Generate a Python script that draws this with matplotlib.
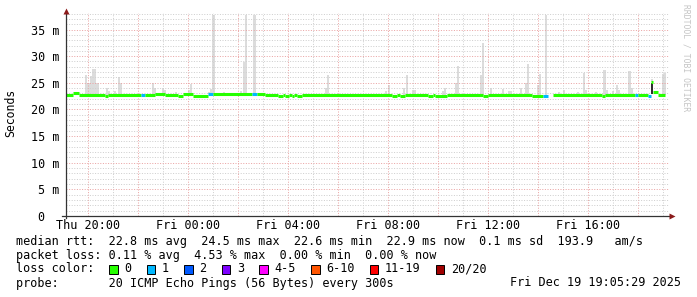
import numpy as np
import matplotlib
matplotlib.use("Agg")
import matplotlib.pyplot as plt
from matplotlib.collections import LineCollection

# ---------------- data ----------------
tick_hours = [20, 24, 28, 32, 36, 40]
tick_labels = ["Thu 20:00", "Fri 00:00", "Fri 04:00", "Fri 08:00", "Fri 12:00", "Fri 16:00"]
y_ticks = [0, 5, 10, 15, 20, 25, 30, 35]
y_tick_labels = ["0  ", "5 m", "10 m", "15 m", "20 m", "25 m", "30 m", "35 m"]

start_h = 19 + 5 / 60
end_h = 43 + 5 / 60
step_h = 5 / 60

# median rtt (ms), piecewise constant segments: start hour, value, loss band index
median_start_h = [19.0833, 19.38, 19.62, 20.68, 20.80, 22.10, 22.26, 22.66, 23.06, 23.58,
                  23.78, 24.18, 24.78, 24.98, 26.54, 26.74, 27.08, 27.58, 27.78, 27.87,
                  28.03, 28.15, 28.23, 28.35, 28.55, 32.15, 32.35, 32.47, 32.67, 33.60,
                  33.80, 33.87, 34.35, 35.78, 35.98, 37.74, 38.18, 38.38, 38.58, 40.54,
                  40.66, 41.86, 41.98, 42.38, 42.50, 42.58, 42.78]
median_ms = [22.8, 23.0, 22.75, 22.6, 22.75, 22.7, 22.75, 22.95, 22.75, 22.6,
             22.9, 22.6, 22.9, 22.85, 22.85, 22.95, 22.8, 22.6, 22.8, 22.6,
             22.8, 22.6, 22.8, 22.6, 22.8, 22.6, 22.8, 22.6, 22.8, 22.6,
             22.8, 22.6, 22.8, 22.6, 22.8, 22.6, 22.6, np.nan, 22.8, 22.6,
             22.8, 22.75, 22.8, 22.6, 25.1, 23.3, 22.75]
median_loss = [0, 0, 0, 0, 0, 1, 0, 0, 0, 0,
               0, 0, 1, 0, 1, 0, 0, 0, 0, 0,
               0, 0, 0, 0, 0, 0, 0, 0, 0, 0,
               0, 0, 0, 0, 0, 0, 1, 0, 0, 0,
               0, 1, 0, 1, 0, 0, 0]

# smoke (max ping rtt per 5-minute step, ms)
smoke_h = [19.88, 19.96, 20.08, 20.16, 20.24, 20.32, 20.70, 20.78, 21.02, 21.18,
           21.26, 22.54, 22.62, 22.94, 23.02, 23.46, 24.00, 24.08, 24.80, 24.88,
           24.96, 25.38, 26.06, 26.17, 26.26, 26.60, 29.46, 29.54, 31.86, 31.99,
           32.59, 32.69, 32.93, 33.02, 34.13, 34.22, 34.66, 34.76, 35.66, 35.76,
           36.06, 36.53, 36.78, 36.86, 37.26, 37.46, 37.56, 37.93, 38.02, 38.26,
           38.80, 38.97, 39.53, 39.77, 39.86, 40.26, 40.60, 40.69, 40.93, 41.09,
           41.18, 41.60, 41.69, 42.50, 42.93, 43.01]
smoke_top_ms = [26.5, 25.0, 26.3, 27.6, 27.6, 25.0, 24.0, 23.5, 23.4, 26.0,
                25.0, 25.0, 24.1, 24.1, 23.6, 23.3, 23.6, 24.75, 23.3, 23.9,
                37.7, 23.3, 23.4, 28.9, 37.7, 37.7, 24.1, 26.5, 23.4, 24.6,
                24.1, 26.4, 23.7, 23.6, 23.4, 24.1, 24.9, 28.1, 26.4, 32.5,
                24.0, 23.8, 23.4, 23.4, 24.0, 25.0, 28.5, 24.6, 26.6, 37.7,
                23.3, 23.6, 23.3, 26.9, 23.6, 23.3, 27.4, 23.7, 23.4, 24.6,
                23.6, 27.2, 24.0, 25.7, 26.6, 26.9]

dark_smoke_h = [42.50]
dark_smoke_low = [22.9]
dark_smoke_high = [24.9]

loss_labels = ["0", "1", "2", "3", "4-5", "6-10", "11-19", "20/20"]
loss_colors = ["#26ff00", "#00b8ff", "#0059ff", "#7e00ff", "#ff00ff", "#ff5500", "#ff0000", "#a00000"]

stats_rtt = "median rtt:  22.8 ms avg  24.5 ms max  22.6 ms min  22.9 ms now  0.1 ms sd  193.9   am/s"
stats_loss = "packet loss: 0.11 % avg  4.53 % max  0.00 % min  0.00 % now"
probe_text = "probe:       20 ICMP Echo Pings (56 Bytes) every 300s"
stamp_text = "Fri Dec 19 19:05:29 2025"

# ---------------- figure ----------------
W, H = 697, 297
fig = plt.figure(figsize=(W / 100, H / 100), dpi=100)
fig.patch.set_facecolor("white")
mono = "DejaVu Sans Mono"
fs = 8.5

ax = fig.add_axes([65.5 / W, 81 / H, 600 / W, 203 / H])
ax.set_xlim(start_h, end_h)
ax.set_ylim(0, 38.1)
ax.set_facecolor("white")
for s in ax.spines.values():
    s.set_visible(False)

MAJ = "#eaa4a4"
MIN = "#cfcfcf"
DOT = (0, (1, 1.6))
# grid
for h in np.arange(20, 44, 1):
    major = (h % 2 == 0)
    ax.axvline(h, color=MAJ if major else MIN, lw=0.72,
               ls=DOT, zorder=2.5)
for v in np.arange(1, 39, 1):
    major = (v % 5 == 0)
    ax.plot([0, 1.004], [v, v], transform=ax.get_yaxis_transform(),
            color=MAJ if major else MIN, lw=0.72,
            ls=DOT, zorder=2.5, clip_on=False)

# smoke
m_start = np.array(median_start_h)
m_val = np.array(median_ms, dtype=float)
sh = np.array(smoke_h)
idx = np.clip(np.searchsorted(m_start, sh, side="right") - 1, 0, len(m_val) - 1)
base = np.where(np.isnan(m_val[idx]), 22.7, m_val[idx])
top = np.array(smoke_top_ms)
ax.bar(sh, top - base, bottom=base, width=step_h, align="edge",
       color="#dcdcdc", linewidth=0, zorder=2)
ax.bar(dark_smoke_h, np.array(dark_smoke_high) - np.array(dark_smoke_low),
       bottom=dark_smoke_low, width=step_h * 0.8, align="edge",
       color="#2e2e2e", linewidth=0, zorder=3)

# median
ends = list(median_start_h[1:]) + [end_h]
segs, cols = [], []
for s0, s1, v, l in zip(median_start_h, ends, median_ms, median_loss):
    if np.isnan(v):
        continue
    segs.append([(s0, v), (s1, v)])
    cols.append(loss_colors[l])
ax.add_collection(LineCollection(segs, colors=cols, linewidths=2.2,
                                 capstyle="butt", zorder=4))

# axes lines and arrows
ax.plot([-0.006, 1.008], [0, 0], transform=ax.transAxes, color="#333333",
        lw=0.9, clip_on=False, zorder=5)
ax.plot([0, 0], [-0.01, 1.005], transform=ax.transAxes, color="#333333",
        lw=0.9, clip_on=False, zorder=5)
ax.plot([1.0115], [0], transform=ax.transAxes, marker=">", ms=4,
        color="#8b1a1a", clip_on=False, zorder=6, mec="none")
ax.plot([0], [1.012], transform=ax.transAxes, marker="^", ms=4,
        color="#8b1a1a", clip_on=False, zorder=6, mec="none")

# ticks
ax.set_xticks(tick_hours)
ax.set_xticklabels(tick_labels, family=mono, fontsize=fs)
ax.set_yticks(y_ticks)
ax.set_yticklabels(y_tick_labels, family=mono, fontsize=fs)
ax.tick_params(axis="x", length=0, pad=2.5)
ax.tick_params(axis="y", length=0, pad=4.3)


def fy(y):
    return 1 - y / H


fig.text(11 / W, fy(113), "Seconds", rotation=90, family=mono, fontsize=8.3,
         ha="center", va="center")

# watermark
fig.text(686 / W, 1 - 4 / H, "RRDTOOL / TOBI OETIKER", rotation=270,
         family=mono, fontsize=5.8, color="#c4c4c4", ha="center", va="top")

# legend text
fig.text(16 / W, fy(241), stats_rtt, family=mono, fontsize=fs, va="center")
fig.text(16 / W, fy(255), stats_loss, family=mono, fontsize=fs, va="center")
fig.text(16 / W, fy(269), "loss color:", family=mono, fontsize=fs, va="center")
fig.text(16 / W, fy(283), probe_text, family=mono, fontsize=fs, va="center")
fig.text(681 / W, fy(283), stamp_text, family=mono, fontsize=fs, va="center", ha="right")

x_sq = 109.0
for lab, col in zip(loss_labels, loss_colors):
    fig.patches.append(plt.Rectangle((x_sq / W, fy(273.5)), 8.5 / W, 9 / H,
                                     transform=fig.transFigure, facecolor=col,
                                     edgecolor="black", linewidth=0.7))
    fig.text((x_sq + 15) / W, fy(269), lab, family=mono, fontsize=fs, va="center")
    x_sq += 30.5 + 7.08 * len(lab)

fig.savefig("out.png", dpi=100, facecolor="white")
